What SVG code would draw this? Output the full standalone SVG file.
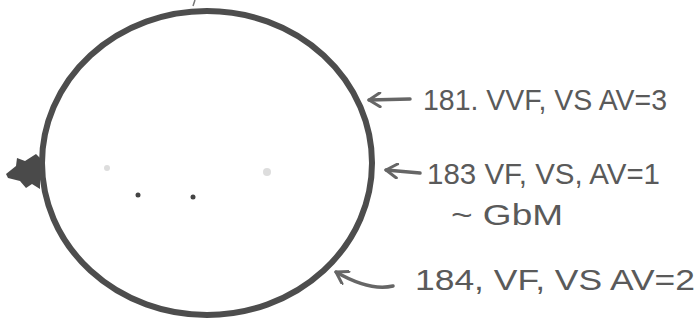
<svg xmlns="http://www.w3.org/2000/svg" width="698" height="320" viewBox="0 0 698 320">
<style>
.lbl{font-family:"Liberation Sans","DejaVu Sans",sans-serif;fill:#5a5a5a;font-size:29px}
.arr{fill:none;stroke:#666;stroke-width:3.5;stroke-linecap:round;stroke-linejoin:round}
</style>
<defs>
<marker id="ah" markerWidth="16" markerHeight="16" refX="13" refY="8" orient="auto" markerUnits="userSpaceOnUse">
<path d="M2,1 L13,8 L2,15" fill="none" stroke="#666" stroke-width="3" stroke-linecap="round" stroke-linejoin="round"/>
</marker>
</defs>
<rect width="698" height="320" fill="#fff"/>
<g id="sphere">
<ellipse cx="207" cy="163" rx="165" ry="152" fill="none" stroke="#4d4d4d" stroke-width="6"/>
<circle cx="138" cy="195" r="2.5" fill="#444"/>
<circle cx="193" cy="197" r="2.5" fill="#444"/>
<circle cx="107" cy="168" r="3" fill="#ddd"/>
<circle cx="267" cy="172" r="4" fill="#ddd"/>
<path d="M6,174 L16,166 L17,158 L25,161 L36,154 L40,158 L40,189 L32,184 L26,188 L20,181 L8,178 Z" fill="#4a4a4a"/>
<path d="M195,0 L193,6" stroke="#777" stroke-width="1.5"/>
</g>
<g id="connectors">
<path class="arr" d="M410,99 L369,100" marker-end="url(#ah)"/>
<path class="arr" d="M420,173 L386,170" marker-end="url(#ah)"/>
<path class="arr" d="M393,286 C375,290 355,283 336,272" marker-end="url(#ah)"/>
</g>
<g id="label-181">
<text class="lbl" x="423" y="110" textLength="244" lengthAdjust="spacingAndGlyphs">181. VVF, VS AV=3</text>
</g>
<g id="label-183">
<text class="lbl" x="427" y="184" textLength="233" lengthAdjust="spacingAndGlyphs">183 VF, VS, AV=1</text>
<text class="lbl" x="451" y="225" font-size="26" textLength="112" lengthAdjust="spacingAndGlyphs">~ GbM</text>
</g>
<g id="label-184">
<text class="lbl" x="415" y="290" textLength="280" lengthAdjust="spacingAndGlyphs">184, VF, VS AV=2</text>
</g>
</svg>
